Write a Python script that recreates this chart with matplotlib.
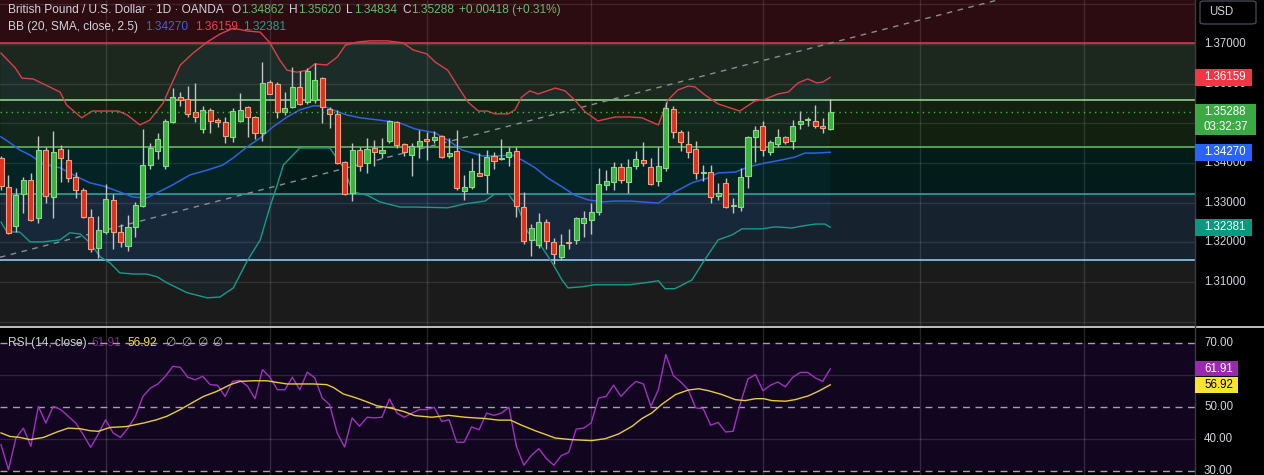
import numpy as np
import matplotlib
matplotlib.use("Agg")
import matplotlib.pyplot as plt
from matplotlib.patches import Rectangle, FancyBboxPatch
from matplotlib.lines import Line2D
from matplotlib.transforms import blended_transform_factory

plt.rcParams['font.family'] = ['Liberation Sans', 'DejaVu Sans']

# ---- GBP/USD daily candles ----
opens = [1.3413, 1.3340, 1.3241, 1.3322, 1.3357, 1.3262, 1.3433, 1.3314, 1.3435, 1.3408,
         1.3365, 1.3332, 1.3264, 1.3186, 1.3226, 1.3307, 1.3226, 1.3191, 1.3239, 1.3292,
         1.3395, 1.3430, 1.3393, 1.3503, 1.3566, 1.3561, 1.3529, 1.3486, 1.3534, 1.3508,
         1.3503, 1.3466, 1.3506, 1.3541, 1.3516, 1.3476, 1.3604, 1.3599, 1.3529, 1.3541,
         1.3592, 1.3554, 1.3559, 1.3614, 1.3536, 1.3524, 1.3403, 1.3325, 1.3433, 1.3400,
         1.3438, 1.3425, 1.3456, 1.3503, 1.3448, 1.3420, 1.3443, 1.3461, 1.3458, 1.3468,
         1.3418, 1.3430, 1.3330, 1.3340, 1.3375, 1.3370, 1.3418, 1.3410, 1.3415, 1.3430,
         1.3289, 1.3206, 1.3193, 1.3251, 1.3201, 1.3163, 1.3201, 1.3206, 1.3249, 1.3256,
         1.3277, 1.3345, 1.3352, 1.3390, 1.3352, 1.3393, 1.3408, 1.3390, 1.3355, 1.3388,
         1.3536, 1.3478, 1.3448, 1.3435, 1.3375, 1.3377, 1.3317, 1.3350, 1.3292, 1.3289,
         1.3367, 1.3466, 1.3493, 1.3428, 1.3448, 1.3466, 1.3456, 1.3498, 1.3508, 1.3506,
         1.3493, 1.34862]
highs = [1.3418, 1.3370, 1.3337, 1.3365, 1.3375, 1.3468, 1.3440, 1.3481, 1.3445, 1.3435,
         1.3377, 1.3337, 1.3284, 1.3267, 1.3347, 1.3322, 1.3246, 1.3269, 1.3302, 1.3486,
         1.3451, 1.3476, 1.3511, 1.3589, 1.3579, 1.3594, 1.3602, 1.3544, 1.3539, 1.3514,
         1.3516, 1.3539, 1.3577, 1.3544, 1.3519, 1.3655, 1.3609, 1.3604, 1.3579, 1.3642,
         1.3632, 1.3640, 1.3652, 1.3616, 1.3541, 1.3534, 1.3405, 1.3451, 1.3440, 1.3463,
         1.3458, 1.3463, 1.3508, 1.3506, 1.3451, 1.3451, 1.3483, 1.3478, 1.3481, 1.3471,
         1.3463, 1.3483, 1.3370, 1.3413, 1.3425, 1.3433, 1.3428, 1.3461, 1.3440, 1.3440,
         1.3327, 1.3246, 1.3274, 1.3259, 1.3211, 1.3221, 1.3234, 1.3264, 1.3279, 1.3299,
         1.3388, 1.3382, 1.3403, 1.3400, 1.3410, 1.3430, 1.3453, 1.3413, 1.3440, 1.3554,
         1.3544, 1.3483, 1.3481, 1.3456, 1.3395, 1.3395, 1.3350, 1.3362, 1.3312, 1.3388,
         1.3468, 1.3493, 1.3506, 1.3458, 1.3486, 1.3468, 1.3508, 1.3531, 1.3516, 1.3546,
         1.3514, 1.35620]
lows = [1.3332, 1.3221, 1.3226, 1.3274, 1.3254, 1.3249, 1.3299, 1.3262, 1.3352, 1.3352,
        1.3312, 1.3262, 1.3176, 1.3161, 1.3221, 1.3183, 1.3188, 1.3178, 1.3214, 1.3289,
        1.3385, 1.3410, 1.3385, 1.3501, 1.3544, 1.3516, 1.3503, 1.3476, 1.3476, 1.3491,
        1.3451, 1.3453, 1.3503, 1.3466, 1.3461, 1.3456, 1.3574, 1.3514, 1.3521, 1.3539,
        1.3546, 1.3549, 1.3551, 1.3501, 1.3488, 1.3398, 1.3319, 1.3304, 1.3380, 1.3375,
        1.3393, 1.3413, 1.3451, 1.3438, 1.3418, 1.3367, 1.3413, 1.3408, 1.3451, 1.3413,
        1.3413, 1.3332, 1.3307, 1.3335, 1.3367, 1.3325, 1.3385, 1.3408, 1.3393, 1.3264,
        1.3196, 1.3166, 1.3186, 1.3183, 1.3146, 1.3156, 1.3183, 1.3196, 1.3214, 1.3221,
        1.3269, 1.3332, 1.3332, 1.3350, 1.3325, 1.3385, 1.3393, 1.3345, 1.3342, 1.3380,
        1.3463, 1.3430, 1.3413, 1.3360, 1.3355, 1.3299, 1.3307, 1.3287, 1.3274, 1.3279,
        1.3337, 1.3403, 1.3418, 1.3420, 1.3440, 1.3448, 1.3435, 1.3486, 1.3493, 1.3488,
        1.3476, 1.34834]
closes = [1.3342, 1.3224, 1.3319, 1.3357, 1.3256, 1.3433, 1.3317, 1.3428, 1.3413, 1.3362,
          1.3332, 1.3264, 1.3183, 1.3231, 1.3309, 1.3226, 1.3201, 1.3239, 1.3294, 1.3395,
          1.3438, 1.3461, 1.3506, 1.3566, 1.3559, 1.3524, 1.3516, 1.3534, 1.3506, 1.3503,
          1.3468, 1.3531, 1.3534, 1.3516, 1.3476, 1.3602, 1.3574, 1.3529, 1.3539, 1.3592,
          1.3549, 1.3632, 1.3609, 1.3541, 1.3524, 1.3400, 1.3322, 1.3433, 1.3393, 1.3435,
          1.3428, 1.3433, 1.3506, 1.3445, 1.3428, 1.3443, 1.3456, 1.3456, 1.3466, 1.3415,
          1.3425, 1.3337, 1.3340, 1.3380, 1.3367, 1.3415, 1.3405, 1.3413, 1.3428, 1.3292,
          1.3204, 1.3236, 1.3251, 1.3204, 1.3171, 1.3193, 1.3199, 1.3262, 1.3262, 1.3277,
          1.3347, 1.3355, 1.3390, 1.3357, 1.3390, 1.3410, 1.3400, 1.3347, 1.3393, 1.3539,
          1.3478, 1.3453, 1.3428, 1.3375, 1.3377, 1.3314, 1.3325, 1.3289, 1.3294, 1.3365,
          1.3466, 1.3483, 1.3433, 1.3453, 1.3466, 1.3453, 1.3493, 1.3506, 1.3511, 1.3493,
          1.34870, 1.35288]

# ---- Bollinger bands (20, SMA, 2.5), read at bar positions ----
bb_up_x = [0, 1.9, 2.8, 4.3, 7.9, 8.8, 10.8, 12.2, 13.7, 15.7, 16.9, 18.6, 19.9, 21.7, 22.9,
           24.0, 25.7, 27.6, 29.3, 31.1, 32.9, 34.7, 36.0, 37.3, 38.3, 39.6, 41.0, 42.0, 43.6,
           45.0, 46.1, 47.7, 49.4, 51.7, 53.8, 55.2, 57.0, 58.1, 59.8, 61.2, 62.5, 63.9, 65.1,
           66.1, 67.9, 68.8, 69.7, 70.8, 71.9, 74.2, 75.5, 76.8, 78.2, 79.9, 82.2, 84.2, 85.8,
           88.0, 89.3, 90.6, 92.0, 92.9, 94.2, 96.0, 97.3, 98.9, 100.9, 102.3, 104.0, 105.4,
           106.7, 108.0, 109.2, 110.0, 111]
bb_up = [1.3677, 1.3640, 1.3614, 1.3612, 1.3579, 1.3546, 1.3514, 1.3531, 1.3531, 1.3531,
         1.3521, 1.3496, 1.3508, 1.3551, 1.3602, 1.3647, 1.3677, 1.3705, 1.3725, 1.3740,
         1.3733, 1.3730, 1.3703, 1.3660, 1.3634, 1.3629, 1.3634, 1.3650, 1.3647, 1.3667,
         1.3697, 1.3705, 1.3708, 1.3708, 1.3703, 1.3685, 1.3675, 1.3655, 1.3634, 1.3592,
         1.3554, 1.3531, 1.3531, 1.3524, 1.3524, 1.3534, 1.3566, 1.3582, 1.3574, 1.3589,
         1.3582, 1.3559, 1.3529, 1.3506, 1.3516, 1.3516, 1.3514, 1.3496, 1.3559, 1.3584,
         1.3594, 1.3592, 1.3572, 1.3549, 1.3541, 1.3531, 1.3556, 1.3561, 1.3574, 1.3579,
         1.3602, 1.3612, 1.3602, 1.3604, 1.36159]
bb_mid_x = [0, 1.2, 2.5, 3.9, 5.6, 7.9, 10.2, 11.9, 13.7, 15.9, 17.7, 19.5, 20.9, 23.0, 25.3,
            27.6, 29.7, 31.1, 32.9, 34.7, 36.4, 38.3, 40.0, 41.8, 43.1, 44.4, 46.3, 48.1, 50.7,
            53.4, 55.4, 58.1, 59.8, 61.7, 64.4, 66.5, 68.4, 69.7, 71.5, 73.2, 75.1, 76.8, 78.6,
            80.5, 82.2, 84.2, 85.8, 88.0, 90.2, 92.5, 94.6, 96.0, 98.3, 100.0, 102.3, 104.6,
            106.3, 107.6, 109.0, 111]
bb_mid = [1.3466, 1.3451, 1.3433, 1.3420, 1.3398, 1.3388, 1.3365, 1.3350, 1.3342, 1.3327,
          1.3314, 1.3312, 1.3325, 1.3345, 1.3370, 1.3382, 1.3395, 1.3413, 1.3440, 1.3463,
          1.3491, 1.3516, 1.3534, 1.3544, 1.3544, 1.3534, 1.3521, 1.3514, 1.3508, 1.3501,
          1.3486, 1.3476, 1.3458, 1.3433, 1.3418, 1.3418, 1.3420, 1.3408, 1.3388, 1.3362,
          1.3340, 1.3319, 1.3307, 1.3302, 1.3304, 1.3304, 1.3302, 1.3299, 1.3327, 1.3350,
          1.3362, 1.3375, 1.3377, 1.3390, 1.3400, 1.3408, 1.3415, 1.3425, 1.3425, 1.3427]
bb_lo_x = [0, 0.8, 2.5, 3.9, 5.6, 7.9, 9.2, 10.6, 11.9, 13.3, 14.6, 15.9, 17.7, 19.5, 20.9,
           22.2, 24.9, 27.6, 29.3, 31.1, 32.9, 34.7, 36.0, 36.9, 37.8, 40.0, 44.0, 45.8, 47.1,
           49.0, 50.7, 53.4, 55.4, 59.8, 62.1, 64.8, 66.1, 67.9, 69.2, 70.5, 72.4, 73.8, 75.1,
           75.9, 77.8, 79.5, 82.2, 84.2, 86.2, 88.0, 88.9, 90.2, 92.5, 94.2, 96.0, 97.9, 99.2,
           101.9, 103.6, 105.9, 107.2, 109.0, 110.3, 111]
bb_lo = [1.3251, 1.3226, 1.3226, 1.3201, 1.3201, 1.3206, 1.3224, 1.3221, 1.3199, 1.3163,
         1.3148, 1.3123, 1.3120, 1.3120, 1.3113, 1.3098, 1.3073, 1.3060, 1.3062, 1.3085,
         1.3151, 1.3206, 1.3289, 1.3340, 1.3395, 1.3438, 1.3438, 1.3390, 1.3327, 1.3319,
         1.3302, 1.3289, 1.3289, 1.3287, 1.3297, 1.3304, 1.3322, 1.3322, 1.3289, 1.3226,
         1.3188, 1.3148, 1.3105, 1.3085, 1.3088, 1.3093, 1.3093, 1.3093, 1.3098, 1.3103,
         1.3083, 1.3083, 1.3105, 1.3156, 1.3206, 1.3219, 1.3234, 1.3234, 1.3239, 1.3236,
         1.3241, 1.3246, 1.3246, 1.32381]

# ---- RSI(14) and its moving average ----
rsi = [38.2, 30.4, 40.3, 43.4, 37.7, 50.2, 45.0, 50.2, 49.2, 47.1, 45.0, 41.4, 37.4, 41.4,
       46.0, 41.9, 40.5, 43.4, 47.1, 53.3, 55.9, 57.2, 59.6, 62.7, 62.4, 59.3, 58.5, 59.6,
       57.0, 56.8, 53.3, 58.0, 58.3, 56.5, 52.6, 61.7, 59.3, 55.4, 55.4, 59.3, 55.4, 60.9,
       59.1, 52.8, 50.7, 41.9, 37.5, 46.6, 44.0, 46.8, 46.6, 46.8, 52.5, 48.1, 46.8, 48.1,
       49.2, 49.2, 49.9, 45.5, 46.0, 39.0, 39.0, 43.8, 42.9, 48.1, 47.4, 48.1, 49.9, 37.7,
       31.8, 34.9, 37.0, 33.9, 31.8, 34.8, 35.8, 43.1, 43.4, 45.0, 52.8, 53.3, 56.8, 53.3,
       55.9, 58.0, 57.2, 50.2, 55.4, 66.4, 59.8, 57.8, 55.4, 49.7, 49.5, 44.3, 45.2, 42.2,
       42.4, 51.3, 58.8, 60.1, 55.1, 56.8, 57.8, 56.3, 59.3, 60.8, 60.8, 59.1, 58.0, 61.91]
rsi_ma_x = [0, 1.2, 2.5, 3.9, 5.7, 7.5, 9.0, 10.6, 11.9, 13.0, 14.6, 16.8, 19.1, 20.8, 22.2,
            24.0, 25.8, 27.1, 28.9, 30.7, 32.0, 33.8, 35.6, 36.9, 38.3, 40.0, 41.8, 43.6, 44.5,
            45.8, 47.6, 49.0, 50.3, 52.1, 53.9, 55.4, 57.7, 59.9, 62.1, 64.8, 66.6, 68.2, 69.7,
            71.5, 74.2, 76.4, 79.1, 80.9, 82.7, 84.5, 85.8, 87.1, 88.5, 90.3, 92.0, 93.4, 94.7,
            96.5, 98.3, 99.6, 101.0, 102.1, 103.2, 105.0, 106.3, 108.1, 109.4, 111]
rsi_ma = [41.9, 40.8, 40.5, 39.8, 40.5, 42.2, 43.4, 43.2, 42.6, 42.4, 43.6, 43.9, 45.0, 46.0,
          47.1, 49.2, 51.6, 53.3, 54.9, 57.0, 58.0, 58.2, 58.2, 57.7, 57.2, 57.2, 57.2, 57.0,
          56.1, 54.1, 52.8, 51.6, 50.4, 49.7, 48.6, 47.3, 46.8, 47.4, 46.8, 46.4, 45.9, 45.9,
          44.3, 42.6, 40.3, 39.8, 39.5, 40.1, 41.6, 44.0, 46.4, 48.1, 50.9, 53.9, 55.3, 55.7,
          55.1, 53.9, 52.3, 52.0, 52.6, 52.6, 52.0, 51.8, 52.3, 53.5, 54.9, 56.92]

# horizontal zones drawn on the chart, top to bottom
zone_levels = [1.3703, 1.3559, 1.3440, 1.3321, 1.3155]
zone_lines = ['#c8414b', '#8fcf8f', '#5cb85c', '#26a69a', '#8ec9f0']
zone_fills = ['#2c0b11', '#1c271d', '#12200f', '#031c19', '#16222e', '#1b1b1b']
trend_a = (0, 1.3163)
trend_b = (132.8, 1.3808)
month_bars = [14, 36, 57, 79, 102, 123, 145]
price_grid = [1.30, 1.31, 1.32, 1.33, 1.34, 1.35, 1.36, 1.37, 1.38]
price_labels = [1.37, 1.36, 1.34, 1.33, 1.32, 1.31]   # 1.35 sits fully under the price tag
rsi_labels = [70, 50, 40, 30]                          # 60 sits under the RSI tags

W, H = 1264, 475
PW, MH = 1195, 326
FS = 8.3
FS_HEAD = 8.6
TXT = '#d1d4dc'
UP, UP_EDGE = '#3cb043', '#86dc86'
DN, DN_EDGE = '#e0301e', '#f2a07e'

fig = plt.figure(figsize=(W / 100, H / 100), dpi=100, facecolor='black')
ax = fig.add_axes([0, 1 - MH / H, PW / W, MH / H])
rax = fig.add_axes([0, 0, PW / W, (H - MH - 1) / H])
for a in (ax, rax):
    a.set_xlim(-0.134, 159.84)
    a.set_xticks([]); a.set_yticks([])
    for s in a.spines.values():
        s.set_visible(False)
ax.set_ylim(1.2989, 1.3811)
rax.set_ylim(28.75, 75.0)
rax.set_facecolor('black')

# zones
bounds = [1.3811] + zone_levels + [1.2989]
for k in range(len(zone_fills)):
    ax.axhspan(bounds[k + 1], bounds[k], color=zone_fills[k], lw=0, zorder=0)
for p in price_grid:
    ax.axhline(p, color='white', alpha=0.1, lw=1, zorder=0.5)
for b in month_bars:
    ax.axvline(b, color='white', alpha=0.12, lw=1, zorder=0.5)
    rax.axvline(b, color='white', alpha=0.15, lw=1, zorder=0.5)

# bollinger fill + lines
ax.fill(np.r_[bb_up_x, bb_lo_x[::-1]], np.r_[bb_up, bb_lo[::-1]],
        color='#2196f3', alpha=0.06, lw=0, zorder=1)
for lv, c in zip(zone_levels, zone_lines):
    ax.axhline(lv, color=c, lw=1.2, zorder=1.5)
ax.axline(trend_a, trend_b, color='#8a8d96', lw=1, ls=(0, (4, 4)), zorder=2)
ax.plot(bb_up_x, bb_up, color='#d9404b', lw=1, zorder=2.5)
ax.plot(bb_mid_x, bb_mid, color='#2f62e0', lw=1.1, zorder=2.5)
ax.plot(bb_lo_x, bb_lo, color='#179c88', lw=1, zorder=2.5)

# candles
o, h, l, c = map(np.array, (opens, highs, lows, closes))
idx = np.arange(len(o))
up = c >= o
ax.vlines(idx, l, h, color='#c4c4c4', lw=1, zorder=3)
body_lo = np.minimum(o, c)
body_h = np.maximum(np.abs(c - o), 0.0003)
ax.bar(idx[up], body_h[up], bottom=body_lo[up], width=0.68, color=UP,
       edgecolor=UP_EDGE, linewidth=0.8, zorder=3.2)
ax.bar(idx[~up], body_h[~up], bottom=body_lo[~up], width=0.68, color=DN,
       edgecolor=DN_EDGE, linewidth=0.8, zorder=3.2)
ax.axhline(closes[-1], color='#4caf50', lw=1, ls=(0, (1, 3)), zorder=3.5)

# RSI pane
rax.axhspan(30, 70, color='#12051f', lw=0, zorder=0)
for v in (60, 40):
    rax.axhline(v, color='white', alpha=0.13, lw=1, zorder=0.6)
for v in (70, 50, 30):
    rax.axhline(v, color='#a0a3ab', lw=1, ls=(0, (5, 4)), zorder=2)
rax.plot(idx, rsi, color='#a032bd', lw=1, zorder=3)
rax.plot(rsi_ma_x, rsi_ma, color='#e8cc3c', lw=1, zorder=3.1)

# separators
fig.add_artist(Line2D([0, 1], [1 - MH / H - 0.5 / H] * 2, color='#e0e0e0', lw=1.2))
fig.add_artist(Line2D([PW / W] * 2, [0, 1], color='#3c3c3c', lw=1))


def fx(px):
    return px / W


def fy(py):
    return 1 - py / H


# legends
def seg(x, y, s, col):
    fig.text(fx(x), fy(y), s, color=col, fontsize=FS_HEAD, va='center', ha='left')


seg(8, 10, 'British Pound / U.S. Dollar · 1D · OANDA', TXT)
GRN = '#66bb6a'
for xl, lab, xv, val in [(232, 'O', 241, opens[-1]), (289, 'H', 298, highs[-1]),
                         (346, 'L', 354, lows[-1]), (402, 'C', 411, closes[-1])]:
    seg(xl, 10, lab, TXT)
    seg(xv, 10, f'{val:.5f}', GRN)
chg = closes[-1] - closes[-2]
seg(459, 10, f'+{chg:.5f} (+{chg / closes[-2] * 100:.2f}%)', GRN)
seg(8, 27, 'BB (20, SMA, close, 2.5)', TXT)
seg(145, 27, f'{bb_mid[-1]:.5f}', '#3d63dd')
seg(195, 27, f'{bb_up[-1]:.5f}', '#e8424f')
seg(243, 27, f'{bb_lo[-1]:.5f}', '#22a08c')

rt = blended_transform_factory(rax.transAxes, rax.transData)
rax.text(8 / PW, 70, 'RSI (14, close)', transform=rt, color=TXT, fontsize=FS_HEAD, va='center', zorder=1)
rax.text(91 / PW, 70, f'{rsi[-1]:.2f}', transform=rt, color='#7e2a93', fontsize=FS_HEAD, va='center', zorder=1)
rax.text(128 / PW, 70, f'{rsi_ma[-1]:.2f}', transform=rt, color='#f5e03a', fontsize=FS_HEAD, va='center', zorder=1)
for xs in (165, 181, 197, 212):
    rax.text(xs / PW, 70, '∅', transform=rt, color='#b2b5be', fontsize=FS_HEAD, va='center',
             family=['DejaVu Sans'], zorder=1)

# right scale
mt = blended_transform_factory(fig.transFigure, ax.transData)
m_upp = (1.3811 - 1.2989) / MH
for p in price_labels:
    fig.text(fx(1204), p, f'{p:.5f}', transform=mt, color=TXT, fontsize=FS, va='center')
rt2 = blended_transform_factory(fig.transFigure, rax.transData)
r_upp = (75.0 - 28.75) / (H - MH - 1)
for v in rsi_labels:
    fig.text(fx(1204), v, f'{v:.2f}', transform=rt2, color=TXT, fontsize=FS, va='center')


def tag(trans, upp, value, text, fc, tc, w=57, above=8.5, below=8.5, sub=None):
    fig.add_artist(Rectangle((fx(PW), value - below * upp), w / W, (above + below) * upp,
                             transform=trans, facecolor=fc, edgecolor='none', zorder=5))
    fig.text(fx(1204), value, text, transform=trans, color=tc, fontsize=FS,
             va='center', zorder=6)
    if sub:
        fig.text(fx(1204), value - 15 * upp, sub, transform=trans, color=tc,
                 fontsize=FS, va='center', zorder=6)


tag(mt, m_upp, bb_up[-1], f'{bb_up[-1]:.5f}', '#f23645', 'white')
tag(mt, m_upp, closes[-1], f'{closes[-1]:.5f}', '#3da944', 'white', w=61,
    above=8, below=23, sub='03:32:37')
tag(mt, m_upp, bb_mid[-1], f'{bb_mid[-1]:.5f}', '#2962ff', 'white')
tag(mt, m_upp, bb_lo[-1], f'{bb_lo[-1]:.5f}', '#089981', 'white')
tag(rt2, r_upp, rsi[-1], f'{rsi[-1]:.2f}', '#9c27b0', 'white', w=43, above=7.5, below=7.5)
tag(rt2, r_upp, rsi_ma[-1], f'{rsi_ma[-1]:.2f}', '#f7e331', 'black', w=43, above=8, below=8)

fig.add_artist(FancyBboxPatch((fx(1200), fy(24)), fx(56), 23 / H,
                              boxstyle='round,pad=0,rounding_size=0.004',
                              transform=fig.transFigure, facecolor='black',
                              edgecolor='#434651', lw=1, zorder=5))
fig.text(fx(1209), fy(12), 'USD', color=TXT, fontsize=FS, va='center', zorder=6)

fig.savefig('out.png', dpi=100, facecolor='black')
